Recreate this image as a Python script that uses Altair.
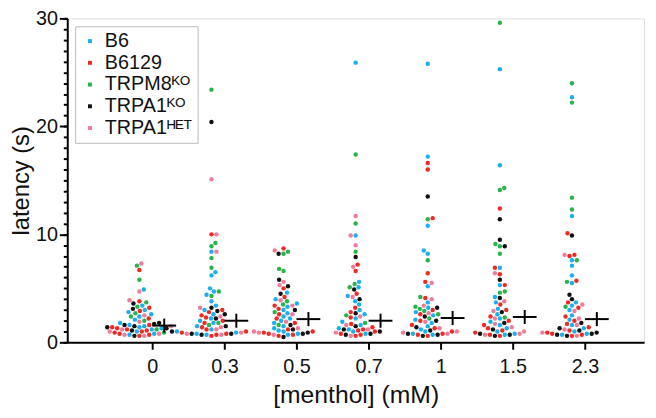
import altair as alt
import pandas as pd

# ---------------- data ----------------
concentrations = ["0", "0.3", "0.5", "0.7", "1", "1.5", "2.3"]
strains = ["B6", "B6129", "TRPM8ᴷᴼ", "TRPA1ᴷᴼ", "TRPA1ᴴᴱᵀ"]
colors = ["#1BB0EA", "#EE2A24", "#2BB24C", "#111111", "#F07C9C"]

b6 = [
    [4.9, 3.4, 3.0, 2.8, 2.6, 2.4, 2.1, 1.8, 1.6, 1.5, 1.4, 1.2, 1.0, 0.8, 0.7, 1.3],
    [8.4, 6.5, 6.2, 5.0, 4.7, 4.4, 3.8, 3.4, 3.0, 2.6, 2.2, 2.0, 1.8, 1.5, 1.2, 0.9, 0.8, 0.7, 1.0],
    [4.6, 4.0, 3.6, 3.3, 3.0, 2.7, 2.4, 2.2, 2.0, 1.8, 1.5, 1.3, 1.0, 0.8, 0.7, 1.1],
    [25.9, 9.9, 5.6, 5.1, 4.3, 3.8, 3.5, 3.0, 2.6, 2.2, 1.9, 1.6, 1.3, 1.0, 0.8, 1.2],
    [25.8, 17.2, 10.8, 8.5, 8.2, 5.2, 3.7, 3.2, 2.8, 2.5, 2.1, 1.8, 1.5, 1.2, 1.0, 0.8, 0.7],
    [25.3, 16.4, 6.9, 5.3, 4.2, 3.7, 3.1, 2.6, 2.2, 1.9, 1.6, 1.3, 1.0, 0.8, 0.7],
    [22.7, 11.7, 7.6, 7.1, 6.2, 5.5, 3.7, 3.4, 3.0, 2.5, 2.1, 1.6, 1.3, 1.0, 0.8, 0.7],
]
b6129 = [
    [6.7, 3.8, 3.2, 2.9, 2.2, 1.6, 1.4, 1.3, 1.2, 1.0, 0.9, 0.8, 0.6, 0.7, 1.1],
    [10.0, 3.0, 2.8, 2.5, 2.3, 2.0, 1.8, 1.4, 1.0, 0.8, 0.7, 0.6, 1.2, 0.9],
    [8.7, 5.0, 4.2, 3.4, 3.1, 2.6, 2.2, 1.8, 1.2, 1.0, 0.9, 0.8, 0.6, 0.7],
    [7.2, 6.6, 4.5, 3.2, 2.8, 2.3, 1.7, 1.4, 1.2, 1.0, 0.8, 0.7, 0.6, 1.1],
    [16.6, 16.0, 11.5, 6.4, 5.6, 4.1, 3.0, 2.6, 2.0, 1.6, 1.3, 1.0, 0.8, 0.6, 0.7],
    [12.4, 6.9, 6.3, 5.3, 3.5, 3.0, 2.4, 2.0, 1.6, 1.3, 1.1, 0.9, 0.7, 0.6],
    [10.1, 8.1, 8.0, 5.7, 3.7, 3.2, 2.4, 2.0, 1.7, 1.4, 1.1, 0.9, 0.8, 0.7, 0.6],
]
trpm8ko = [
    [7.1, 5.8, 3.7, 3.3, 2.7, 2.4, 2.0, 1.2, 0.9],
    [23.4, 9.2, 8.9, 7.8, 6.9, 4.7, 4.3, 1.8, 1.6],
    [8.4, 8.2, 6.8, 6.6, 3.8, 3.5, 2.8, 1.6],
    [17.4, 11.0, 8.4, 5.4, 5.1, 2.5, 1.8],
    [11.4, 7.6, 4.2, 3.3, 3.1, 2.9, 2.6, 2.2],
    [29.6, 14.3, 14.1, 9.1, 8.9, 8.2, 4.7, 4.6, 2.3],
    [24.0, 22.2, 13.4, 12.3, 7.6, 5.6, 3.3],
]
trpa1ko = [
    [3.6, 3.1, 1.8, 1.6, 1.5, 1.4, 1.3, 1.1, 0.6, 1.7],
    [20.4, 3.2, 2.9, 2.6, 2.2, 1.5, 1.0, 0.8, 0.7, 0.8],
    [8.2, 5.8, 5.2, 4.5, 3.0, 1.6, 1.2, 0.8, 0.5, 0.9],
    [7.9, 4.9, 4.0, 2.7, 1.5, 1.2, 1.0, 0.8, 0.7],
    [13.5, 3.2, 2.4, 2.0, 1.4, 1.1, 0.8, 0.7, 0.6],
    [11.4, 9.5, 8.9, 5.8, 4.1, 2.8, 1.8, 1.2, 0.7, 0.6, 0.8],
    [9.9, 4.4, 4.0, 1.8, 1.3, 1.1, 0.9, 0.8, 0.6, 0.7],
]
trpa1het = [
    [7.3, 4.7, 3.9, 2.5, 1.9, 1.5, 1.2, 1.0, 0.8, 0.6, 0.7],
    [15.1, 10.0, 8.4, 3.2, 2.4, 1.4, 1.2, 0.9, 0.8, 0.7],
    [8.5, 5.6, 5.3, 3.9, 3.4, 2.6, 1.9, 1.3, 1.0, 0.7, 0.9],
    [11.7, 9.9, 9.0, 7.0, 4.2, 2.4, 1.6, 1.2, 0.6, 0.9],
    [5.5, 4.0, 3.4, 2.7, 1.9, 1.3, 1.0, 0.8, 0.9],
    [6.4, 3.8, 2.9, 2.2, 1.7, 1.4, 1.0, 0.8, 0.7],
    [8.1, 3.5, 2.9, 2.2, 1.6, 1.2, 0.9, 0.6],
]
medians = [1.55, 2.0, 2.15, 2.0, 2.25, 2.35, 2.15]
y_major = [0, 10, 20, 30]
y_minor = list(range(0, 31))

series = [b6, b6129, trpm8ko, trpa1ko, trpa1het]

# ---------------- beeswarm layout (pixel-space collision avoidance) ----------------
PX_X = 73.0      # pixels per category unit (x)
PX_Y = 10.93     # pixels per second (y)
DIAM = 5.0
SWARM_SHIFT = -0.18
CROSS_SHIFT = 0.165


def swarm(vals):
    n = len(vals)
    order = sorted(range(n), key=lambda i: vals[i])
    placed = []
    offs = [0.0] * n
    for rank, i in enumerate(order):
        y = vals[i] * PX_Y
        sign = 1 if rank % 2 == 0 else -1
        chosen = None
        k = 0
        while chosen is None:
            cands = [0.0] if k == 0 else [sign * k * 0.5, -sign * k * 0.5]
            for x in cands:
                if all((x - px) ** 2 + (y - py) ** 2 >= DIAM * DIAM for px, py in placed):
                    chosen = x
                    break
            k += 1
        placed.append((chosen, y))
        offs[i] = chosen
    return offs


rows = []
for g, conc in enumerate(concentrations):
    vals, labs = [], []
    for s_idx, s in enumerate(strains):
        for v in series[s_idx][g]:
            vals.append(v)
            labs.append(s)
    offs = swarm(vals)
    for v, lab, o in zip(vals, labs, offs):
        rows.append({"x": g + SWARM_SHIFT + o / PX_X, "latency": v, "strain": lab})
df = pd.DataFrame(rows)

cross_rows = []
for g, m in enumerate(medians):
    cx = g + CROSS_SHIFT
    cross_rows.append({"cx": cx, "x1": cx - 0.165, "x2": cx + 0.165,
                       "m": m, "y1": m - 0.65, "y2": m + 0.65})
cdf = pd.DataFrame(cross_rows)

FONT = "Liberation Sans"
label_js = "[" + ",".join("'" + c + "'" for c in concentrations) + "][datum.value]"

xscale = alt.Scale(domain=[-1.18, 6.82], nice=False, zero=False)
yscale = alt.Scale(domain=[0, 30], nice=False)

x_axis = alt.Axis(
    title="[menthol] (mM)", values=list(range(len(concentrations))),
    labelExpr=label_js, grid=False, domainColor="black", domainWidth=2,
    tickColor="black", tickWidth=2, tickSize=7, labelFontSize=20,
    labelFont=FONT, labelColor="#111", labelPadding=8, labelOverlap=False,
    titleFont=FONT, titleFontSize=25, titleFontWeight="normal", titleColor="#111",
    titlePadding=6,
)
y_axis_major = alt.Axis(
    title="latency (s)", values=y_major, grid=False, orient="left",
    domainColor="black", domainWidth=2, tickColor="black", tickWidth=2,
    tickSize=8, labelFontSize=20, labelFont=FONT, labelColor="#111",
    labelPadding=2, labelOverlap=False, labelFlush=False,
    titleFont=FONT, titleFontSize=24, titleFontWeight="normal", titleColor="#111",
    titlePadding=2,
)
y_axis_minor = alt.Axis(
    title=None, values=y_minor, grid=False, labels=False, domain=False,
    orient="left", tickColor="black", tickWidth=2, tickSize=4,
)

points = alt.Chart(df).mark_circle(size=20, opacity=1).encode(
    x=alt.X("x:Q", scale=xscale, axis=x_axis),
    y=alt.Y("latency:Q", scale=yscale, axis=y_axis_major),
    color=alt.Color(
        "strain:N",
        scale=alt.Scale(domain=strains, range=colors),
        sort=strains,
        legend=alt.Legend(
            title=None, orient="none", legendX=8, legendY=8, symbolType="square",
            symbolSize=16, labelFontSize=20, labelFont=FONT, labelColor="#111",
            strokeColor="#bbbbbb", padding=5, rowPadding=2, labelOffset=5,
            symbolStrokeWidth=0,
        ),
    ),
)

hbar = alt.Chart(cdf).mark_rule(color="black", strokeWidth=2).encode(
    x=alt.X("x1:Q", scale=xscale), x2="x2:Q",
    y=alt.Y("m:Q", scale=yscale, axis=y_axis_minor),
)
vbar = alt.Chart(cdf).mark_rule(color="black", strokeWidth=2).encode(
    x=alt.X("cx:Q", scale=xscale),
    y=alt.Y("y1:Q", scale=yscale, axis=None), y2="y2:Q",
)

chart = (
    alt.layer(points, hbar, vbar)
    .resolve_axis(y="independent")
    .properties(
        width=584, height=328,
        autosize=alt.AutoSizeParams(type="none"),
        padding={"left": 60, "top": 8, "right": 4, "bottom": 66},
    )
    .configure_view(stroke=None)
    .configure(background="white")
)

chart.save("out.html", embed_options={"renderer": "svg", "actions": False})
